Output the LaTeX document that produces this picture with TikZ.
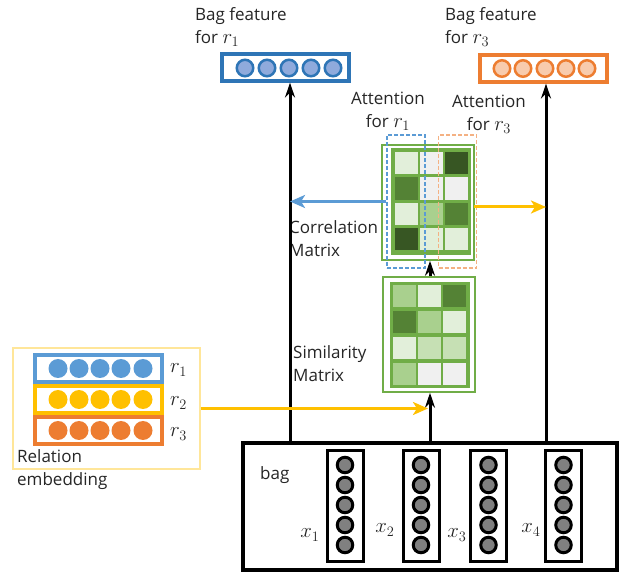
\documentclass[tikz,border=0pt]{standalone}
\usepackage{fontspec}
\setmainfont{Open Sans}
\usetikzlibrary{arrows.meta}
\definecolor{cblue}{HTML}{2E75B6}
\definecolor{lblue}{HTML}{5B9BD5}
\definecolor{pblue}{HTML}{8FAADC}
\definecolor{corange}{HTML}{ED7D31}
\definecolor{porange}{HTML}{F8CBAD}
\definecolor{lorange}{HTML}{F4B183}
\definecolor{cyellow}{HTML}{FFC000}
\definecolor{lyellow}{HTML}{FFE699}
\definecolor{ga}{HTML}{375623}
\definecolor{gb}{HTML}{548235}
\definecolor{gc}{HTML}{A9D08E}
\definecolor{gd}{HTML}{C6E0B4}
\definecolor{ge}{HTML}{E2EFDA}
\definecolor{gf}{HTML}{F0F0F0}
\definecolor{gframe}{HTML}{70AD47}
\tikzset{
  lbl/.style={inner sep=0pt, font=\fontsize{17}{23}\selectfont, text=black!85},
  mlbl/.style={inner sep=0pt, font=\fontsize{21}{23}\selectfont, text=black!85},
  vecbox/.style={draw, rectangle, minimum width=127pt, minimum height=27pt, line width=3.2pt, inner sep=0pt},
  dot/.style={circle, inner sep=0pt, minimum size=19pt},
  bagdot/.style={circle, draw=black, line width=3pt, fill=black!50, inner sep=0pt, minimum size=15.5pt},
  colbox/.style={draw=black, line width=3pt, rectangle, minimum width=36pt, minimum height=111pt, inner sep=0pt},
  blk/.style={draw=black, line width=3pt, -{Stealth[length=15pt, width=10pt]}},
  colarrow/.style={line width=3pt, -{Stealth[length=15pt, width=13pt, inset=4pt]}},
  matframe/.style={draw=gframe, line width=1.5pt, rectangle, minimum width=92pt, minimum height=115pt, inner sep=0pt},
  attbox/.style={line width=1.2pt, rectangle, minimum width=38pt, minimum height=133pt, inner sep=0pt, dash pattern=on 4pt off 2pt}
}
\begin{document}
\begin{tikzpicture}[x=1pt, y=-1pt]
\useasboundingbox[fill=white] (0,0) rectangle (622,577);

% coordinates for vertical arrows
\coordinate (c1) at (290,0);
\coordinate (c2) at (430,0);
\coordinate (c3) at (546,0);
\coordinate (yb) at (428,0);
\coordinate (ya) at (474,207);

% Bag feature boxes
\node[vecbox, draw=cblue] (feat1) at (285.5,67.5) {};
\foreach \x [count=\i] in {245,267,289,311,333}
  \node[dot, draw=cblue, line width=2.5pt, fill=pblue, minimum size=16.5pt] (fa\i) at (\x,68) {};
\node[vecbox, draw=corange] (feat3) at (543.5,68.5) {};
\foreach \x [count=\i] in {502,523,545,566,587}
  \node[dot, draw=corange, line width=2.5pt, fill=porange, minimum size=16.5pt] (fb\i) at (\x,68.5) {};
\node[lbl, anchor=west, align=left] (t1) at (195,27) {Bag feature\\for {\fontsize{21}{23}\selectfont$r_1$}};
\node[lbl, anchor=west, align=left] (t3) at (445,27) {Bag feature\\for {\fontsize{21}{23}\selectfont$r_3$}};

% Correlation matrix
\node[matframe] (corr) at (428,202.5) {};
\fill[gframe] (391,148) rectangle (471,255);
\foreach \c [count=\k from 0] in {ge,gf,ga, gb,gf,gf, ge,gc,gb, ga,ge,ge}{
  \pgfmathtruncatemacro{\row}{int(\k/3)}
  \pgfmathtruncatemacro{\col}{mod(\k,3)}
  \fill[\c] ({395+25*\col},{152+25.3*\row}) rectangle ++(22.5,22.5);
}
\node[lbl, anchor=west, align=left] (tcorr) at (289,239) {Correlation\\Matrix};

% Attention boxes
\node[attbox, draw=lblue] (att1) at (406,201.5) {};
\node[attbox, draw=lorange] (att3) at (457.5,201.5) {};
\node[lbl, align=center] (ta1) at (388,111) {Attention\\for {\fontsize{21}{23}\selectfont$r_1$}};
\node[lbl, align=center] (ta3) at (489,114) {Attention\\for {\fontsize{21}{23}\selectfont$r_3$}};

% Similarity matrix
\node[matframe] (sim) at (429,334.5) {};
\fill[gframe] (390,282) rectangle (470,388);
\foreach \c [count=\k from 0] in {gc,ge,gb, gb,gc,ge, ge,gd,gd, gc,gf,gf}{
  \pgfmathtruncatemacro{\row}{int(\k/3)}
  \pgfmathtruncatemacro{\col}{mod(\k,3)}
  \fill[\c] ({393+25*\col},{285+26*\row}) rectangle ++(23,22);
}
\node[lbl, anchor=west, align=left] (tsim) at (293,364) {Similarity\\Matrix};

% Relation embedding
\node[draw=lyellow, line width=1.5pt, rectangle, minimum width=187pt, minimum height=121pt, inner sep=0pt] (rel) at (106.5,408.5) {};
\node[vecbox, draw=lblue] (re1) at (98.5,368.5) {};
\node[vecbox, draw=cyellow] (re2) at (98.5,399.5) {};
\node[vecbox, draw=corange] (re3) at (98.5,430.5) {};
\foreach \x [count=\i] in {58,79,100,121,143}{
  \node[dot, fill=lblue] (ra\i) at (\x,368.5) {};
  \node[dot, fill=cyellow] (rb\i) at (\x,399.5) {};
  \node[dot, fill=corange] (rc\i) at (\x,430.5) {};
}
\node[mlbl, anchor=west] (lr1) at (170,370) {$r_1$};
\node[mlbl, anchor=west] (lr2) at (170,403) {$r_2$};
\node[mlbl, anchor=west] (lr3) at (170,434) {$r_3$};
\node[lbl, anchor=west, align=left] (trel) at (17,470) {Relation\\embedding};

% Bag
\node[draw=black, line width=3.2pt, rectangle, minimum width=374pt, minimum height=127pt, inner sep=0pt] (bag) at (430,506.5) {};
\node[lbl, anchor=west] (tbag) at (260,475) {bag};
\foreach \x [count=\i] in {345,421,488.5,563.5}{
  \node[colbox] (v\i) at (\x,506.5) {};
  \foreach \y [count=\j] in {465,485,505,525,545}
    \node[bagdot] (d\i\j) at (\x,\y) {};
}
\node[mlbl] (lx1) at (310,535) {$x_1$};
\node[mlbl] (lx2) at (385,530) {$x_2$};
\node[mlbl] (lx3) at (457,535) {$x_3$};
\node[mlbl] (lx4) at (531,530) {$x_4$};

% Arrows
\draw[blk] (bag.north -| c1) -- (feat1.south -| c1);
\draw[blk] (bag.north -| c3) -- (feat3.south -| c3);
\draw[blk] (bag.north -| c2) -- (sim.south -| c2);
\draw[blk] (sim.north -| c2) -- (corr.south -| c2);
\draw[colarrow, draw=lblue, fill=lblue] (att1.west) -- (att1.west -| c1);
\draw[colarrow, draw=cyellow, fill=cyellow] (ya) -- (ya -| c3);
\draw[colarrow, draw=cyellow, fill=cyellow] (rel.east) -- (rel.east -| yb);
\end{tikzpicture}
\end{document}
